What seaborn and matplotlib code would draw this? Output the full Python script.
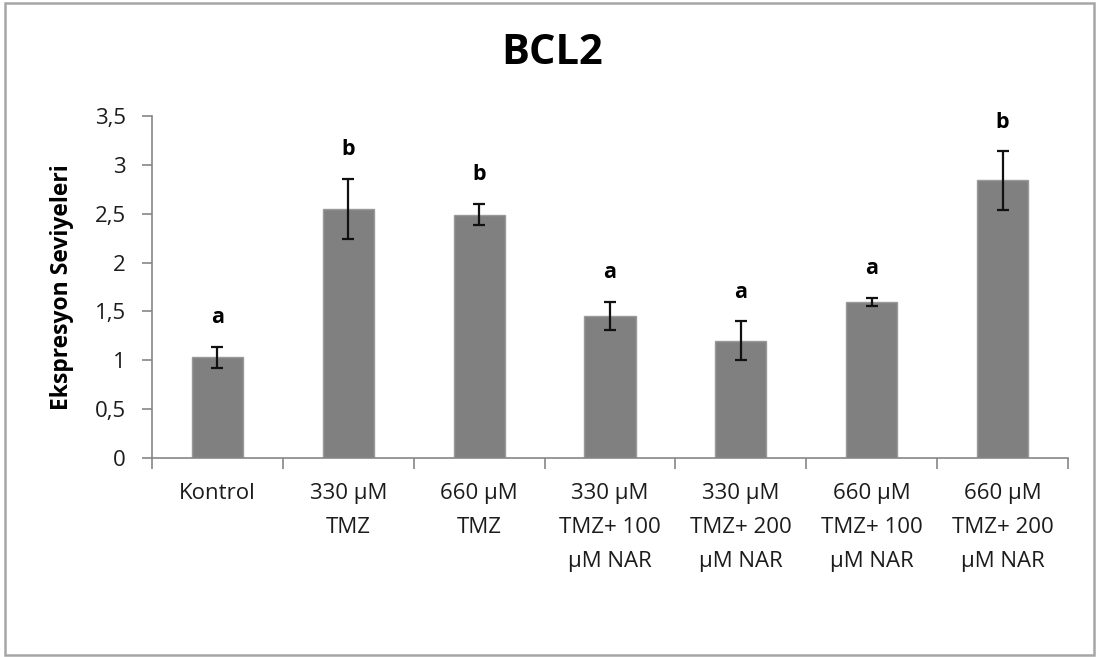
import matplotlib
matplotlib.use("Agg")
import matplotlib.pyplot as plt
import seaborn as sns
import pandas as pd
from matplotlib.patches import Rectangle

categories = ["Kontrol", "330 µM\nTMZ", "660 µM\nTMZ", "330 µM\nTMZ+ 100\nµM NAR",
              "330 µM\nTMZ+ 200\nµM NAR", "660 µM\nTMZ+ 100\nµM NAR", "660 µM\nTMZ+ 200\nµM NAR"]
means = [1.03, 2.55, 2.49, 1.45, 1.20, 1.60, 2.84]
errors = [0.105, 0.31, 0.11, 0.145, 0.20, 0.04, 0.30]
letters = ["a", "b", "b", "a", "a", "a", "b"]
yticks = [0, 0.5, 1, 1.5, 2, 2.5, 3, 3.5]
ytick_labels = ["0", "0,5", "1", "1,5", "2", "2,5", "3", "3,5"]

sns.set_theme(style="white")
plt.rcParams["font.family"] = ["Open Sans", "DejaVu Sans"]

W, H = 1097, 657
fig = plt.figure(figsize=(W / 100, H / 100), dpi=100)
ax = fig.add_axes([152 / W, 1 - 458 / H, (1068 - 152) / W, (458 - 116) / H])

df = pd.DataFrame({"cat": categories, "val": means})
sns.barplot(data=df, x="cat", y="val", ax=ax, color="#808080", saturation=1,
            width=0.39, edgecolor="#9a9a9a", linewidth=1.0)
ax.errorbar(range(len(means)), means, yerr=errors, fmt="none", ecolor="#111111",
            elinewidth=1.6, capsize=4.5, capthick=1.6, zorder=5)

for i, (m, e, l) in enumerate(zip(means, errors, letters)):
    ax.annotate(l, (i, m + e), xytext=(0, 21), textcoords="offset points",
                ha="center", va="center", fontsize=15.5, fontweight="bold", color="black")

tick_color = "#1c1c1c"
ax.set_ylim(0, 3.5)
ax.set_xlim(-0.5, len(categories) - 0.5)
ax.set_yticks(yticks)
ax.set_yticklabels(ytick_labels, fontsize=16, color=tick_color)
ax.set_xticks(range(len(categories)))
ax.set_xticklabels(categories, fontsize=16, color=tick_color, linespacing=1.80, va="top")
ax.set_xticks([i - 0.5 for i in range(len(categories) + 1)], minor=True)
ax.tick_params(axis="x", which="major", length=0, pad=18)
ax.tick_params(axis="x", which="minor", length=8, width=1.2, color="#868686", direction="out", bottom=True)
ax.tick_params(axis="y", which="major", length=7, width=1.2, color="#868686", direction="out", left=True, pad=12)
ax.set_xlabel("")
ax.set_ylabel("Ekspresyon Seviyeleri", fontsize=16.5, fontweight="bold", labelpad=15, color="black")
for s in ["top", "right"]:
    ax.spines[s].set_visible(False)
for s in ["left", "bottom"]:
    ax.spines[s].set_color("#868686")
    ax.spines[s].set_linewidth(1.2)

fig.text(551.7 / W, 1 - 53 / H, "BCL2", ha="center", va="center", fontsize=30,
         fontweight="bold", color="black")

fig.patches.append(Rectangle((5 / W, 1 - 654.5 / H), (1094 - 5) / W, (654.5 - 2.5) / H,
                             transform=fig.transFigure, fill=False, edgecolor="#a6a6a6",
                             linewidth=1.8))

fig.savefig("out.png", dpi=100)
